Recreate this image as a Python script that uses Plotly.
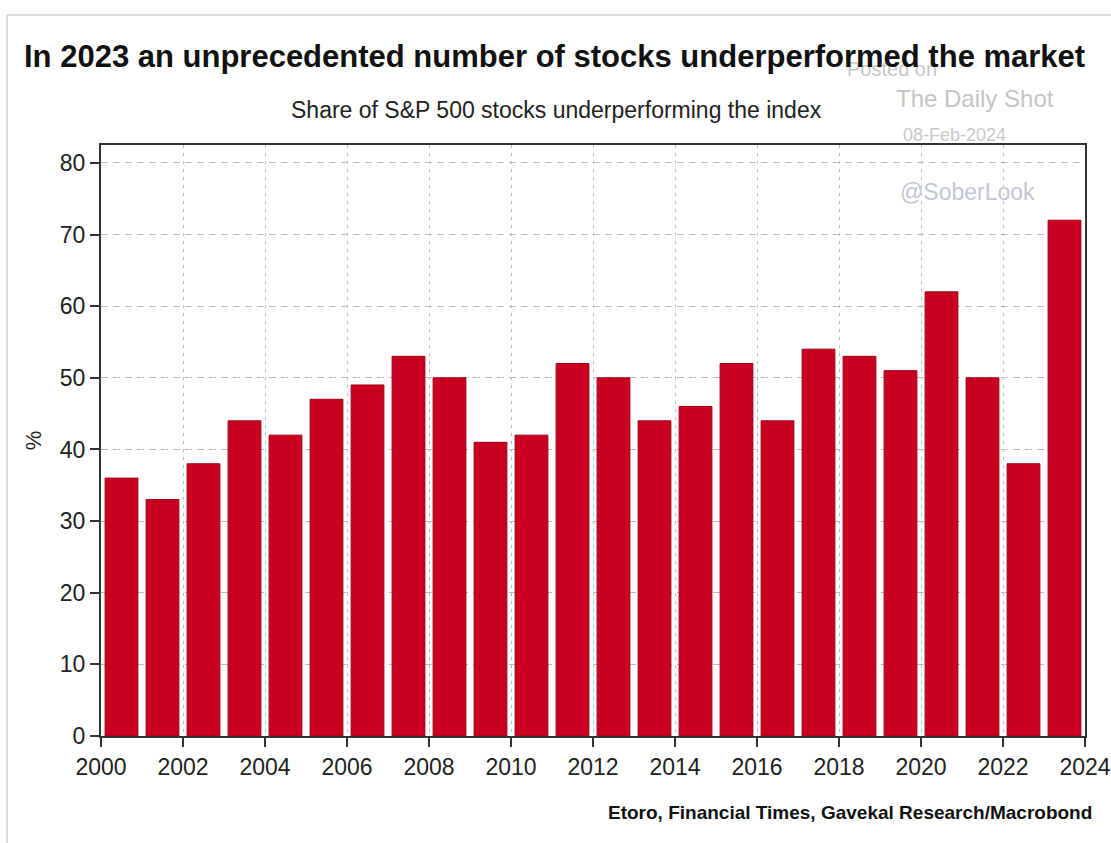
import plotly.graph_objects as go

years = list(range(2000, 2024))
share_underperforming = [36, 33, 38, 44, 42, 47, 49, 53, 50, 41, 42, 52,
                         50, 44, 46, 52, 44, 54, 53, 51, 62, 50, 38, 72]
x_ticks = list(range(2000, 2025, 2))
y_ticks = list(range(0, 81, 10))

FONT = "Liberation Sans, Arial, sans-serif"
MARK_FONT = "Liberation Sans, Arial, sans-serif"
BAR_RED = "#C9001F"

fig = go.Figure()
fig.add_trace(go.Bar(
    x=[y + 0.5 for y in years],
    y=share_underperforming,
    width=0.8,
    marker=dict(color=BAR_RED, line=dict(color="#9E0018", width=1)),
    hoverinfo="x+y",
))

axis_common = dict(
    ticks="outside", ticklen=9, tickcolor="#333", tickwidth=1.5,
    showline=True, linecolor="#333", linewidth=2, mirror=True,
    showgrid=True, gridcolor="#bdbdbd", gridwidth=1,
    tickfont=dict(size=23, family=FONT, color="#222"), zeroline=False,
    automargin=False,
)

fig.update_layout(
    width=1111, height=843,
    margin=dict(l=101, r=26, t=145, b=107),
    paper_bgcolor="white", plot_bgcolor="white",
    font=dict(family=FONT, color="#222", size=20),
    showlegend=False,
    xaxis=dict(range=[2000, 2024], tickvals=x_ticks,
               ticktext=[str(v) for v in x_ticks],
               griddash="3px,5px", **axis_common),
    yaxis=dict(range=[0, 82.5], tickvals=y_ticks, griddash="7px,5px",
               title=dict(text="%", font=dict(size=22, family=FONT), standoff=12),
               **axis_common),
)

# light frame around the figure
top_y = (843 - 15 - 107) / 591
left_x = -94 / 985
fig.add_shape(type="line", xref="paper", yref="paper",
              x0=left_x, x1=left_x, y0=-2, y1=top_y,
              line=dict(color="#d0d0d0", width=1.5))
fig.add_shape(type="line", xref="paper", yref="paper",
              x0=left_x, x1=2, y0=top_y, y1=top_y,
              line=dict(color="#d0d0d0", width=1.5))

annotations = [
    dict(text="Posted on", x=893, y=69, size=20, color="#c8c8c8", fam=MARK_FONT),
    dict(text="The Daily Shot", x=976, y=99, size=24, color="#c4c4c4", fam=MARK_FONT),
    dict(text="08-Feb-2024", x=955, y=135, size=18, color="#c8c8c8", fam=MARK_FONT),
    dict(text="@SoberLook", x=968, y=192, size=23, color="#c2c6d4", fam=MARK_FONT),
    dict(text="<b>In 2023 an unprecedented number of stocks underperformed the market</b>",
         x=555, y=57, size=31, color="#111"),
    dict(text="Share of S&P 500 stocks underperforming the index",
         x=557, y=110, size=23, color="#222"),
    dict(text="<b>Etoro, Financial Times, Gavekal Research/Macrobond</b>",
         x=1095, y=812, size=19, color="#111", xanchor="right"),
]
for a in annotations:
    fig.add_annotation(
        text=a["text"], xref="paper", yref="paper",
        x=(a["x"] - 101) / 985, y=(843 - 107 - a["y"]) / 591,
        xanchor=a.get("xanchor", "center"), yanchor="middle",
        showarrow=False,
        font=dict(size=a["size"], color=a["color"], family=a.get("fam", FONT)),
    )

fig.write_html("out.html")
